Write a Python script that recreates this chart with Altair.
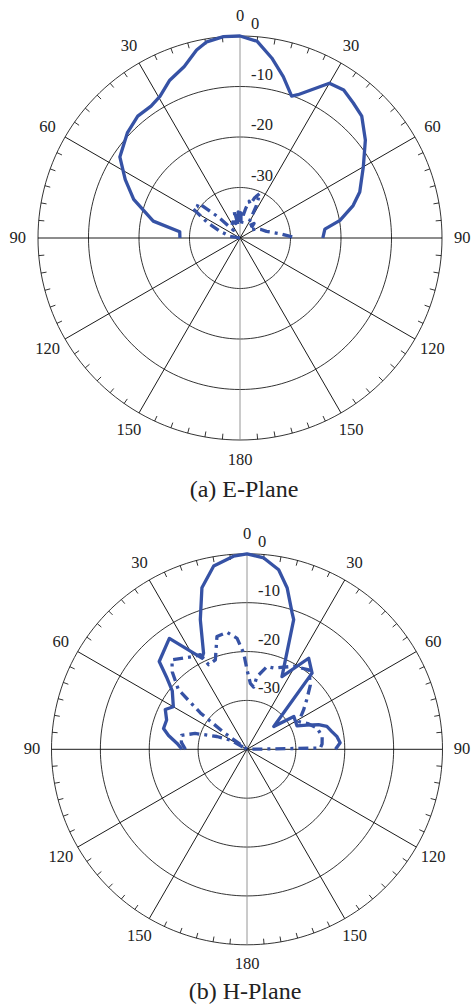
import altair as alt
import pandas as pd

FONT = "Liberation Serif"
BLUE = "#3652A5"
FLOOR = -40  # dB level at the centre of each polar plot

# ---- E-plane: co-polar (solid) and cross-polar (dash-dot) ----
E_CO_DEG = [-90, -84, -79, -70, -63, -56, -47, -40, -34, -29.5, -24, -18, -13, -9.6, -4.7,
            0, 5, 10, 15, 20, 22, 30, 35, 40, 45, 52, 60, 69, 74, 80, 84, 90]
E_CO_DB = [-28.1, -28.0, -22.5, -17.6, -14.5, -11.3, -9.5, -8.5, -8.5, -7.8, -5.8, -4.3, -1.8, -0.6, 0.0,
           0.0, -0.9, -3.8, -6.9, -10.1, -9.4, -4.6, -4.2, -5.1, -5.9, -8.5, -11.8, -14.6, -16.7, -19.9, -23.1, -23.6]

E_X_DEG = [-90, -80, -72, -65, -58, -54, -50, -46, -40, -32, -24, -16, -12, -8, -4, -1, 2, 5, 8, 11, 14, 17,
           20, 24, 27, 30, 36, 44, 52, 60, 68, 76, 84, 90]
E_X_DB = [-40, -38, -36, -33, -29.0, -29.5, -29.3, -34, -38, -37, -36.5, -37, -34.5, -37.5, -34.8, -37,
          -35, -37.5, -35.5, -34, -32.5, -33, -31.5, -30.3, -33, -36.5, -37, -36, -37.5, -36.5, -35.5, -34.6,
          -32, -28.8]

# ---- H-plane: co-polar (solid) and cross-polar (dash-dot) ----
H_CO_DEG = [-90, -85, -80, -76, -70, -64, -60, -52, -48, -45, -35, -26.3, -24.3, -19.8, -15.6, -10.3, -4,
            0, 5, 10, 14, 18.3, 19.8, 25.7, 34.1, 40.5, 49.6, 55, 65, 68, 71, 74, 78, 82, 86, 90]
H_CO_DB = [-26.7, -25.6, -23.7, -22.4, -22.5, -21.4, -22.6, -20.6, -17.8, -14.6, -12.3, -19.2, -18.4, -11.8,
           -5.7, -1.9, -0.4, 0.0, -0.7, -2.7, -6.0, -10.6, -11.8, -23.5, -17.5, -19.5, -32.8, -28.3, -28.7,
           -26.8, -24.5, -23.0, -22.3, -21.4, -20.9, -21.9]

H_X_DEG = [-90, -84, -78, -73, -67, -61, -58, -54, -52, -49, -44, -40, -30, -26.3, -24.4, -19.5, -14.9,
           -9.7, -5.1, -2, 0, 2.9, 6.1, 7.8, 13.6, 18.2, 29.4, 37.9, 44.5, 50, 55.2, 61.8, 67, 73.3, 80.4,
           86, 89, 90]
H_X_DB = [-27.4, -26.5, -26.3, -28.9, -33.3, -36.1, -40, -34, -27.9, -21.4, -18.0, -16.1, -18.1, -18.4,
          -21.0, -20.6, -16.1, -15.7, -17.2, -20.3, -23.7, -26.5, -27.2, -25.0, -22.6, -22.5, -20.5, -19.4,
          -21.5, -24.0, -25.9, -28.0, -26.5, -25.0, -24.4, -24.6, -25.0, -40]

# ---- polar grid ----
RING_DB = [0, -10, -20, -30]
SPOKE_DEG = list(range(0, 360, 30))
TICK_DEG = [d for d in range(0, 360, 5) if d % 30]
ANGLE_LABEL_DEG = [0, 30, 60, 90, 120, 150, 180, -150, -120, -90, -60, -30]
ANGLE_LABEL_TEXT = [str(abs(d)) for d in ANGLE_LABEL_DEG]
RADIAL_LABEL_DB = [0, -10, -20, -30]
RADIAL_LABEL_TEXT = ["0", "-10", "-20", "-30"]

SIN = "sin(datum.deg * PI / 180)"
COS = "cos(datum.deg * PI / 180)"


def curve_frame(deg, db):
    return pd.DataFrame({"deg": deg, "db": db, "idx": range(len(deg))})


def panel(co_deg, co_db, xp_deg, xp_db, title, cx, cy, ppu, height, title_pos):
    width = 473
    xs = alt.Scale(domain=[-cx / ppu, (width - cx) / ppu], nice=False, zero=False)
    ys = alt.Scale(domain=[-(height - cy) / ppu, cy / ppu], nice=False, zero=False)

    def X(f):
        return alt.X(f, type="quantitative", scale=xs, axis=None)

    def Y(f):
        return alt.Y(f, type="quantitative", scale=ys, axis=None)

    ring_df = pd.DataFrame([{"ring": d, "deg": a} for d in RING_DB for a in range(0, 361, 2)])
    rings = (
        alt.Chart(ring_df)
        .transform_calculate(r=f"datum.ring - ({FLOOR})")
        .transform_calculate(x=f"datum.r * {SIN}", y=f"datum.r * {COS}")
        .mark_line(color="black", strokeWidth=0.8)
        .encode(x=X("x"), y=Y("y"), detail="ring:N", order="deg:Q")
    )

    outer = -FLOOR
    spokes = (
        alt.Chart(pd.DataFrame({"deg": SPOKE_DEG}))
        .transform_calculate(
            x0="0", y0="0",
            x1=f"{outer} * {SIN}", y1=f"{outer} * {COS}",
            col="datum.deg % 180 == 0 ? '#8a8a8a' : '#000000'",
        )
        .mark_rule(strokeWidth=0.9)
        .encode(x=X("x0"), y=Y("y0"), x2=alt.X2("x1"), y2=alt.Y2("y1"),
                color=alt.Color("col:N", scale=None))
    )

    ticks = (
        alt.Chart(pd.DataFrame({"deg": TICK_DEG}))
        .transform_calculate(
            x0=f"{outer} * {SIN}", y0=f"{outer} * {COS}",
            x1=f"{outer - 1.1} * {SIN}", y1=f"{outer - 1.1} * {COS}",
        )
        .mark_rule(color="black", strokeWidth=0.8)
        .encode(x=X("x0"), y=Y("y0"), x2=alt.X2("x1"), y2=alt.Y2("y1"))
    )

    def curve(deg, db, dash):
        kw = dict(color=BLUE, strokeWidth=3.3, strokeJoin="round")
        if dash:
            kw["strokeDash"] = [10, 5, 3, 5]
        return (
            alt.Chart(curve_frame(deg, db))
            .transform_calculate(r=f"max(datum.db - ({FLOOR}), 0)")
            .transform_calculate(x=f"datum.r * {SIN}", y=f"datum.r * {COS}")
            .mark_line(**kw)
            .encode(x=X("x"), y=Y("y"), order="idx:Q")
        )

    angle_labels = (
        alt.Chart(pd.DataFrame({"deg": ANGLE_LABEL_DEG, "t": ANGLE_LABEL_TEXT}))
        .transform_calculate(x=f"{outer + 4} * {SIN}", y=f"{outer + 4} * {COS}")
        .mark_text(font=FONT, fontSize=16.5, color="#222222", align="center", baseline="middle")
        .encode(x=X("x"), y=Y("y"), text="t:N")
    )

    radial_labels = (
        alt.Chart(pd.DataFrame({"db": RADIAL_LABEL_DB, "t": RADIAL_LABEL_TEXT}))
        .transform_calculate(x="0", y=f"datum.db - ({FLOOR})")
        .mark_text(font=FONT, fontSize=16.5, color="#222222", align="left", baseline="middle", dx=11, dy=-12)
        .encode(x=X("x"), y=Y("y"), text="t:N")
    )

    caption = (
        alt.Chart(pd.DataFrame({"t": [title]}))
        .mark_text(font=FONT, fontSize=24, color="#222222", align="center", baseline="middle")
        .encode(text="t:N", x=alt.value(title_pos[0]), y=alt.value(title_pos[1]))
    )

    return alt.layer(
        rings, spokes, ticks,
        curve(xp_deg, xp_db, True), curve(co_deg, co_db, False),
        angle_labels, radial_labels, caption,
    ).properties(width=width, height=height)


e_plane = panel(E_CO_DEG, E_CO_DB, E_X_DEG, E_X_DB, "(a) E-Plane",
                cx=240, cy=238, ppu=5.05, height=505, title_pos=(244, 490))
h_plane = panel(H_CO_DEG, H_CO_DB, H_X_DEG, H_X_DB, "(b) H-Plane",
                cx=247, cy=244.3, ppu=4.8875, height=500, title_pos=(245, 487))

chart = (
    alt.vconcat(e_plane, h_plane, spacing=0)
    .properties(padding=0, background="white")
    .configure_view(strokeWidth=0)
)

chart.save("out.html", embed_options={"renderer": "svg", "actions": False})
